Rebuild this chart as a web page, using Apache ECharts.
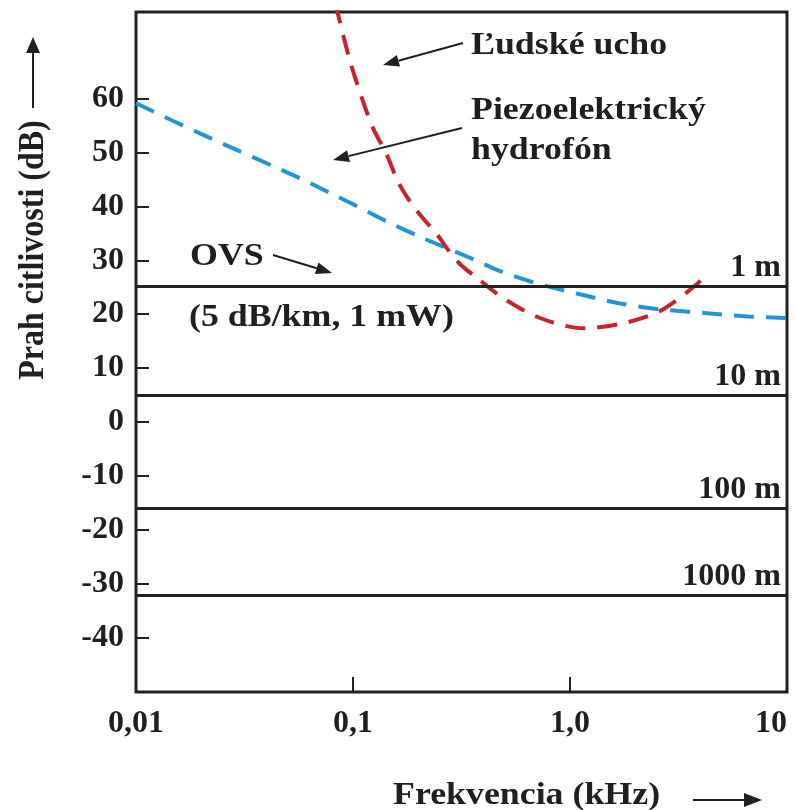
<!DOCTYPE html>
<html>
<head>
<meta charset="utf-8">
<script src="https://cdn.jsdelivr.net/npm/echarts@6/dist/echarts.min.js"></script>
<style>
  html, body { margin: 0; padding: 0; background: #fff; }
  #chart { width: 795px; height: 810px; }
</style>
</head>
<body>
<div id="chart"></div>
<script>
// frekvencia (kHz) - popisky osi
const freqTicks = [0.01, 0.1, 1, 10];
const freqTickLabels = ['0,01', '0,1', '1,0', '10'];
const dbTicks = [-40, -30, -20, -10, 0, 10, 20, 30, 40, 50, 60];

// Ľudské ucho
const earFreq = [0.083, 0.0853, 0.0969, 0.110, 0.124, 0.143, 0.161, 0.183, 0.210, 0.244, 0.271, 0.311, 0.373, 0.491, 0.727, 1.15, 1.75, 2.60, 3.85, 4.19];
const earDb = [77.5, 75.6, 66.9, 60.0, 54.4, 49.6, 44.6, 40.9, 37.8, 34.8, 32.2, 29.3, 26.7, 23.0, 19.3, 17.4, 18.3, 20.6, 25.6, 27.4];

// Piezoelektrický hydrofón
const hydroFreq = [0.01, 0.0197, 0.057, 0.0809, 0.1, 0.143, 0.210, 0.335, 0.476, 0.705, 1.11, 1.70, 2.60, 4.28, 6.6, 10];
const hydroDb = [59.1, 53.5, 45.2, 42.2, 40.4, 37.2, 34.1, 30.7, 28.0, 25.7, 23.7, 22.0, 20.9, 20.2, 19.6, 19.3];

// OVS (5 dB/km, 1 mW) - vzdialenosti
const rangeNames = ['1 m', '10 m', '100 m', '1000 m'];
const rangeDb = [25.2, 5.0, -15.9, -32.0];

const FONT = 'Liberation Serif';
const TXT = '#1f1f1f';

const chart = echarts.init(document.getElementById('chart'));

function zip(xs, ys) {
  return xs.map((x, i) => [x, ys[i]]);
}

// šípka: čiara + trojuholník na konci
function arrow(x1, y1, x2, y2, len, half) {
  const a = Math.atan2(y2 - y1, x2 - x1);
  const bx = x2 - len * Math.cos(a), by = y2 - len * Math.sin(a);
  const px = -Math.sin(a) * half, py = Math.cos(a) * half;
  return [
    { type: 'line', shape: { x1: x1, y1: y1, x2: bx, y2: by }, style: { stroke: TXT, lineWidth: 2 } },
    { type: 'polygon', shape: { points: [[x2, y2], [bx + px, by + py], [bx - px, by - py]] }, style: { fill: TXT } }
  ];
}

function label(text, x, y, extra) {
  return Object.assign({
    type: 'text', x: x, y: y, scaleX: 1.12,
    style: { text: text, fill: TXT, font: 'bold 32px "' + FONT + '"', align: 'left', verticalAlign: 'middle' }
  }, extra || {});
}

const option = {
  animation: false,
  backgroundColor: '#fff',
  grid: {
    left: 136, right: 8, top: 12, bottom: 118,
    show: true, borderColor: '#222', borderWidth: 3
  },
  xAxis: {
    type: 'log',
    logBase: 10,
    min: 0.01,
    max: 10,
    axisLine: { show: false, onZero: false },
    axisTick: { inside: true, length: 15, lineStyle: { color: '#222', width: 2 } },
    minorTick: { show: false },
    splitLine: { show: false },
    axisLabel: {
      margin: 16,
      color: TXT,
      fontFamily: FONT,
      fontWeight: 'bold',
      fontSize: 32,
      alignMaxLabel: 'right',
      formatter: function (v) {
        const i = freqTicks.findIndex(t => Math.abs(Math.log10(t) - Math.log10(v)) < 1e-6);
        return i >= 0 ? freqTickLabels[i] : '';
      }
    }
  },
  yAxis: {
    type: 'value',
    min: -50,
    max: 76,
    interval: 10,
    axisLine: { show: false },
    axisTick: { inside: true, length: 13, lineStyle: { color: '#222', width: 2 }, customValues: dbTicks },
    splitLine: { show: false },
    axisLabel: {
      margin: 12,
      color: TXT,
      fontFamily: FONT,
      fontWeight: 'bold',
      fontSize: 32,
      customValues: dbTicks
    }
  },
  series: [
    {
      name: 'OVS',
      type: 'line',
      data: [],
      markLine: {
        silent: true,
        symbol: ['none', 'none'],
        lineStyle: { color: '#222', width: 3, type: 'solid' },
        label: {
          position: 'insideEndTop',
          formatter: '{b}',
          distance: [6, 2],
          color: TXT,
          fontFamily: FONT,
          fontWeight: 'bold',
          fontSize: 32
        },
        data: rangeDb.map((v, i) => ({ yAxis: v, name: rangeNames[i] }))
      }
    },
    {
      name: 'Piezoelektrický hydrofón',
      type: 'line',
      smooth: 0.3,
      showSymbol: false,
      data: zip(hydroFreq, hydroDb),
      lineStyle: { color: '#2196d3', width: 4, type: [20, 12] },
      z: 3
    },
    {
      name: 'Ľudské ucho',
      type: 'line',
      smooth: 0.3,
      showSymbol: false,
      data: zip(earFreq, earDb),
      lineStyle: { color: '#c9222c', width: 4, type: [20, 12] },
      z: 4
    }
  ],
  graphic: [
    label('Ľudské ucho', 471, 46),
    label('Piezoelektrický', 471, 111),
    label('hydrofón', 471, 151),
    label('OVS', 190, 257),
    label('(5 dB/km, 1 mW)', 189, 318),
    label('Frekvencia (kHz)', 393, 796),
    label('Prah citlivosti (dB)', 34, 250, { rotation: Math.PI / 2, scaleX: 1, scaleY: 1.1, style: { text: 'Prah citlivosti (dB)', fill: TXT, font: 'bold 32px "' + FONT + '"', align: 'center', verticalAlign: 'middle' } })
  ]
    .concat(arrow(463, 43, 383, 65, 16, 6))
    .concat(arrow(462, 128, 333, 160, 16, 6))
    .concat(arrow(273, 255, 332, 273, 16, 6))
    .concat(arrow(33, 108, 33, 37, 16, 7))
    .concat(arrow(693, 800, 762, 800, 18, 7))
};

chart.setOption(option);
</script>
</body>
</html>
